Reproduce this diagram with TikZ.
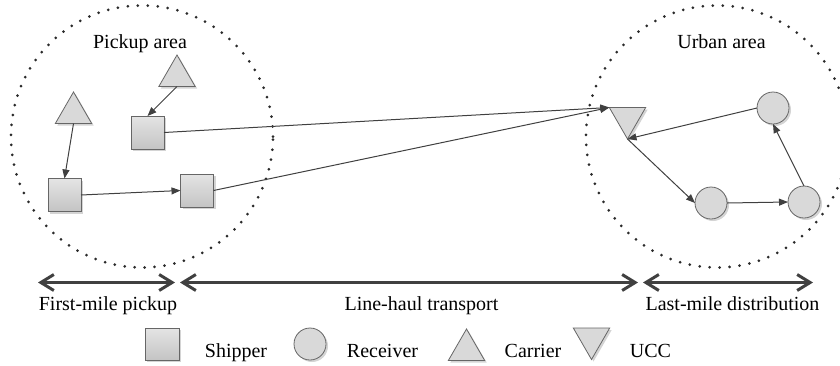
\documentclass[tikz,border=0pt]{standalone}
\usepackage{fontspec}
\setmainfont{Liberation Serif}
\newfontfamily\lblfont{Liberation Serif}
\usetikzlibrary{arrows.meta,shapes.geometric,shadows,calc}
\definecolor{edgecol}{HTML}{404040}
\definecolor{shapeline}{HTML}{666666}
\definecolor{fillg}{HTML}{D9D9D9}
\definecolor{sqtop}{HTML}{E4E4E4}
\definecolor{sqbot}{HTML}{C4C4C4}
\definecolor{shad}{HTML}{D4D4D4}
\definecolor{dotcol}{HTML}{2A2A2A}
\begin{document}
\begin{tikzpicture}[x=1pt,y=-1pt,
  shadowed/.style={drop shadow={shadow xshift=2pt,shadow yshift=-2pt,fill=shad,opacity=1}},
  shipper/.style={draw=shapeline,line width=0.8pt,top color=sqtop,bottom color=sqbot,minimum width=33pt,minimum height=33pt,inner sep=0pt,outer sep=0pt,shadowed},
  receiver/.style={circle,draw=shapeline,line width=0.8pt,fill=fillg,minimum size=32pt,inner sep=0pt,outer sep=0pt,shadowed},
  carrier/.style={regular polygon,regular polygon sides=3,draw=shapeline,line width=0.8pt,fill=fillg,minimum size=42pt,inner sep=0pt,outer sep=0pt,shadowed},
  ucc/.style={carrier,regular polygon rotate=180},
  flow/.style={-{Triangle[length=9pt,width=7pt]},draw=edgecol,line width=1pt},
  span/.style={{Straight Barb[length=13pt,width=16pt]}-{Straight Barb[length=13pt,width=16pt]},draw=edgecol,line width=3pt},
  area/.style={circle,draw=dotcol,line width=3pt,line cap=round,dash pattern=on 0pt off 10pt,minimum size=262pt,inner sep=0pt},
  lbl/.style={anchor=base,font=\lblfont\fontsize{20}{24}\selectfont,inner sep=0pt}
]
\useasboundingbox (0,0) rectangle (840,365);
\begin{scope}
\clip (0,0) rectangle (840,365);
% areas
\node[area] (pickuparea) at (142,136.5) {};
\node[area] (urbanarea) at (717,136.5) {};
\end{scope}
\node[lbl] (pickuplbl) at (140,48) {Pickup area};
\node[lbl] (urbanlbl) at (721.5,48.5) {Urban area};

% pickup area nodes
\node[carrier] (t1) at (177,76) {};
\node[carrier] (t2) at (73.5,113) {};
\node[shipper] (sa) at (147.5,132.5) {};
\node[shipper] (sb) at (64.5,195) {};
\node[shipper] (sc) at (197,190.5) {};

% urban area nodes
\node[ucc] (hub) at (627.5,118) {};
\node[receiver] (r1) at (773,108) {};
\node[receiver] (r2) at (711,203) {};
\node[receiver] (r3) at (804,202) {};

% connectors
\draw[flow] (t2.south) -- (sb.north);
\draw[flow] (t1.south) -- (sa.north);
\draw[flow] (sb.east) -- (sc.west);
\draw[flow] (sa.east) -- (hub.150);
\draw[flow] (sc.east) -- (hub.150);
\draw[flow] (r1.west) -- (hub.south);
\draw[flow] (hub.south) -- (r2.west);
\draw[flow] (r2.east) -- (r3.west);
\draw[flow] (r3.north) -- (r1.south);

% spans
\coordinate (s1a) at (38,282.5);
\coordinate (s1b) at (175,282.5);
\coordinate (s2a) at (180,282.5);
\coordinate (s2b) at (638,282.5);
\coordinate (s3a) at (643,282.5);
\coordinate (s3b) at (813,282.5);
\draw[span] (s1a) -- (s1b);
\draw[span] (s2a) -- (s2b);
\draw[span] (s3a) -- (s3b);
\node[lbl] (firstlbl) at (108,310) {First-mile pickup};
\node[lbl] (linelbl) at (421.5,310) {Line-haul transport};
\node[lbl] (lastlbl) at (732.5,310) {Last-mile distribution};

% legend
\node[shipper,minimum width=34pt,minimum height=32pt] (lgs) at (162,344) {};
\node[lbl] (lgstext) at (236,357) {Shipper};
\node[receiver] (lgr) at (310,344) {};
\node[lbl] (lgrtext) at (382.5,357) {Receiver};
\node[carrier] (lgc) at (466.5,350) {};
\node[lbl] (lgctext) at (533,357) {Carrier};
\node[ucc] (lgu) at (591.5,338.5) {};
\node[lbl] (lgutext) at (650.5,357) {UCC};
\end{tikzpicture}
\end{document}
